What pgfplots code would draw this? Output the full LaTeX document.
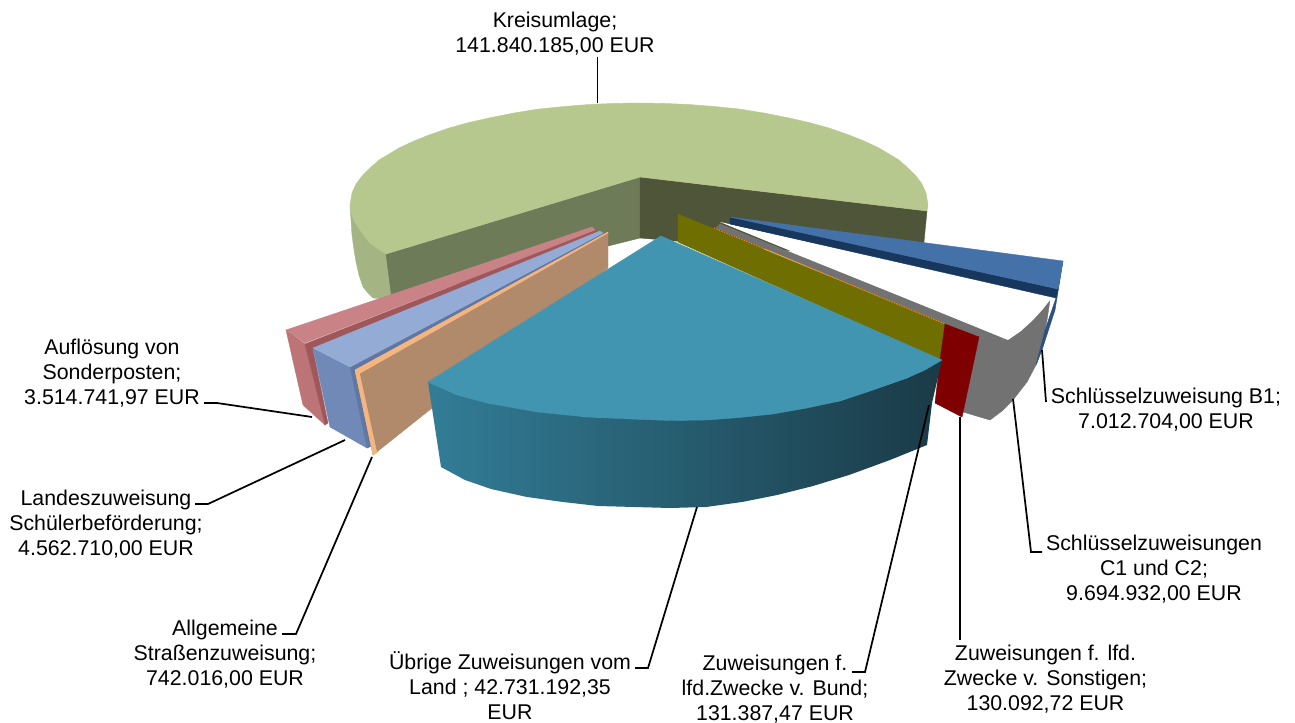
\documentclass[border=0pt]{standalone}
\usepackage{pgfplots}
\pgfplotsset{compat=1.18}
\usepackage{fontspec}
\setmainfont{Liberation Sans}
\definecolor{grTop}{HTML}{B7C88F}
\definecolor{grOut}{HTML}{A4B583}
\definecolor{grL}{HTML}{6E7B58}
\definecolor{grR}{HTML}{4E5539}
\definecolor{blTop}{HTML}{4472A8}
\definecolor{blFace}{HTML}{17375E}
\definecolor{blOut}{HTML}{2C5080}
\definecolor{gyS}{HTML}{727272}
\definecolor{ol}{HTML}{6F6E00}
\definecolor{rd}{HTML}{7F0000}
\definecolor{pkTop}{HTML}{C98386}
\definecolor{pkOut}{HTML}{BC7477}
\definecolor{pkFace}{HTML}{A0575A}
\definecolor{lbTop}{HTML}{94ABD6}
\definecolor{lbOut}{HTML}{7089B6}
\definecolor{lbFace}{HTML}{5F78A3}
\definecolor{orF}{HTML}{B08A6A}
\definecolor{orL}{HTML}{F5B580}
\definecolor{tlTop}{HTML}{4295B0}
\definecolor{tlA}{HTML}{327D96}
\definecolor{tlB}{HTML}{255E70}
\definecolor{tlC}{HTML}{1A3A47}
\tikzset{
  f/.style={fill=#1, draw=#1, line width=.3pt},
  lead/.style={draw=black, line width=1.3pt, fill=none},
  lab/.style={align=center, inner sep=0pt, font=\fontsize{16}{18.75}\selectfont},
}
\begin{document}
\begin{tikzpicture}
\begin{axis}[
  scale only axis, width=971.25pt, height=542.25pt,
  xmin=0, xmax=1295, ymin=0, ymax=723, y dir=reverse,
  hide axis, clip=false, no marks,
]
% Kreisumlage: outer wall and the two cut faces
\addplot[f=grOut] coordinates {(350,205)(351,220)(352,235)(354,250)(356,262)(359,275)(363,287)(368,293)(373,298)(400,300)(386,254)} --cycle;
\addplot[f=grL] coordinates {(640,177)(386,254)(392,300)(640,238)} --cycle;
\addplot[f=grR] coordinates {(640,177)(927,211)(922,262)(640,238)} --cycle;
% Kreisumlage: top
\addplot[f=grTop] coordinates {(927,211)(928,205)(926,193)(922,184)(916,176)(909,169)(899,160)(889,154)(879,148)(864,141)(849,135)(829,128)(809,122.5)(789,118)(764,113)(739,109)(714,106.5)(689,104.5)(664,103.4)(639,103)(614,103.4)(589,104.5)(564,106.5)(539,109)(514,113)(489,118)(469,122.5)(449,128)(429,135)(414,141)(399,148)(389,154)(379,160)(369,169)(362,176)(356,184)(352,193)(350,205)(351,212)(354,221)(360,230)(365,237)(370,243)(378,249)(386,254)(640,177)} --cycle;
% Schluesselzuweisungen C1 und C2
\addplot[f=gyS] coordinates {(1050,300)(1047,320)(1043,340)(1037,363)(1027,382)(1013,400)(1002,411)(990,420)(963,412)(978,337)(1008,340)} --cycle;
\addplot[f=gyS] coordinates {(720,224)(1008,340)(978,337)(945,324)(716,228)} --cycle;
\addplot[fill=white, draw=none] coordinates {(720,222)(1057,297)(1050,300)(1043,309)(1033,320)(1021,331)(1008,340)} --cycle;
% Schluesselzuweisung B1
\addplot[f=blOut] coordinates {(1063,261)(1058,289)(1056,298)(1045,330)(1036,365)(1042,350)(1055,310)} --cycle;
\addplot[f=blFace] coordinates {(730,217)(1058,289)(1056,298)(730,224)} --cycle;
\addplot[f=blTop] coordinates {(730,217)(1063,261)(1058,289)} --cycle;
% Zuweisungen Bund and Sonstige
\addplot[f=ol] coordinates {(678,214)(945,324)(940,360)(678,242)} --cycle;
\addplot[draw=orange, line width=.8pt, dash pattern=on 1pt off 1pt] coordinates {(714,228)(945,324)};
\addplot[f=rd] coordinates {(945,324)(979,337)(962,417)(935,403)(940,360)} --cycle;
% Aufloesung von Sonderposten
\addplot[f=pkOut] coordinates {(286,330)(305,344)(325,425)(303,405)} --cycle;
\addplot[f=pkFace] coordinates {(305,344)(595,230)(598,232)(313,350)(328,423)(325,425)} --cycle;
\addplot[f=pkTop] coordinates {(592,227)(286,330)(305,343)(595,230)} --cycle;
% Landeszuweisung Schuelerbefoerderung
\addplot[f=lbOut] coordinates {(313,348)(350,367)(367,448)(330,427)} --cycle;
\addplot[f=lbFace] coordinates {(350,367)(603,233)(606,235)(355,372)(372,446)(367,448)} --cycle;
\addplot[f=lbTop] coordinates {(600,231)(313,348)(350,367)(603,233)} --cycle;
% Allgemeine Strassenzuweisung
\addplot[f=orF] coordinates {(608,232)(608,268)(373,455)(355,370)} --cycle;
\addplot[f=orL] coordinates {(355,370)(608,232)(608,233)(359.5,373.5)(377,453)(373,455)} --cycle;
% Uebrige Zuweisungen vom Land
\addplot[draw=none, left color=tlA, middle color=tlB, right color=tlC]
  coordinates {(428,382)(441,467)(465,480)(491,489)(527,497)(563,502)(598,506)(634,507)(670,508)(706,507)(742,502)(777,495)(813,486)(849,475)(890,460)(927,445)(932,403)(942,360)(907,378)(840,401)(707,420)(587,417)(487,403)} --cycle;
\addplot[f=tlTop] coordinates {(661,236)(942,360)(925,370)(907,378)(873,390)(840,401)(807,408)(773,414)(740,417.5)(707,420)(670,420.5)(630,419)(587,417)(537,412)(487,403)(457,395)(428,382)} --cycle;
% Leader lines
\addplot[lead] coordinates {(597.5,57)(597.5,103)};
\addplot[lead] coordinates {(204,403)(217,403)(312,417)};
\addplot[lead] coordinates {(195,504)(208,504)(345,440)};
\addplot[lead] coordinates {(282,634)(296,634)(372,457)};
\addplot[lead] coordinates {(635,668)(648,668)(697,507)};
\addplot[lead] coordinates {(852,672)(865,672)(929,405)};
\addplot[lead] coordinates {(960,417)(960,640)};
\addplot[lead] coordinates {(1013,399)(1031,552)(1042,552)};
\addplot[lead] coordinates {(1042,350)(1046,402)};
% Data labels
\node[lab] at (axis cs:555,34) {Kreisumlage;\\141.840.185,00 EUR};
\node[lab] at (axis cs:112,373.5) {Auflösung von\\Sonderposten;\\3.514.741,97 EUR};
\node[lab] at (axis cs:106,524) {Landeszuweisung\\Schülerbeförderung;\\4.562.710,00 EUR};
\node[lab] at (axis cs:225,654) {Allgemeine\\Straßenzuweisung;\\742.016,00 EUR};
\node[lab] at (axis cs:510,686) {Übrige Zuweisungen vom\\Land ; 42.731.192,35\\EUR};
\node[lab] at (axis cs:775,689) {Zuweisungen f.\\lfd.Zwecke v. Bund;\\131.387,47 EUR};
\node[lab] at (axis cs:1045.5,679) {Zuweisungen f. lfd.\\Zwecke v. Sonstigen;\\130.092,72 EUR};
\node[lab] at (axis cs:1154,569) {Schlüsselzuweisungen\\C1 und C2;\\9.694.932,00 EUR};
\node[lab] at (axis cs:1166,409.5) {Schlüsselzuweisung B1;\\7.012.704,00 EUR};
\end{axis}
\pgfresetboundingbox
\useasboundingbox (0,0) rectangle (971.25pt,542.25pt);
\end{tikzpicture}
\end{document}
